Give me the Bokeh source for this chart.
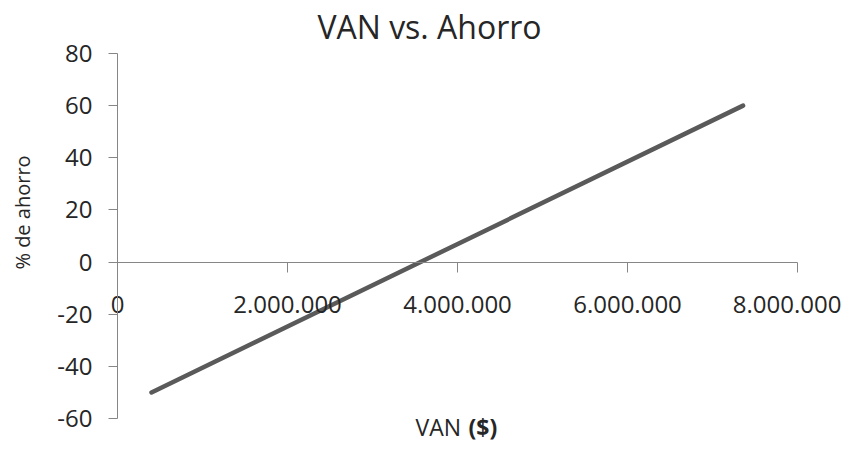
from bokeh.plotting import figure
from bokeh.models import (ColumnDataSource, FixedTicker, CustomJSTickFormatter, Label, Range1d)
from bokeh.embed import file_html
from bokeh.resources import INLINE
import math

# ---- data ----
van = [400000, 7360000]
ahorro = [-50, 60]
x_ticks = [0, 2000000, 4000000, 6000000, 8000000]
y_ticks = [-60, -40, -20, 0, 20, 40, 60, 80]
title_text = "VAN vs. Ahorro"
y_label_text = "% de ahorro"
x_label_main = "VAN"
x_label_bold = "($)"

FONT = "Open Sans"
AXIS_COLOR = "#868686"
TEXT_COLOR = "#262626"

# layout (pixels)
W, H = 841, 443
X0_PX, X1_PX = 117, 797       # where x = 0 and x = 8.000.000 sit
Y_TOP_PX, Y_BOT_PX = 53, 418   # where y = 80 and y = -60 sit
LABEL_REF = 455                # bottom reference of screen-unit labels
x_lo, x_hi = x_ticks[0], x_ticks[-1]
y_lo, y_hi = y_ticks[0], y_ticks[-1]
xs = (x_hi - x_lo) / (X1_PX - X0_PX)
ys = (y_hi - y_lo) / (Y_BOT_PX - Y_TOP_PX)
x_range = Range1d(x_lo - X0_PX * xs, x_hi + (W - X1_PX) * xs)
y_range = Range1d(y_lo - (H - Y_BOT_PX) * ys, y_hi + Y_TOP_PX * ys)

p = figure(frame_width=W, frame_height=H, x_range=x_range, y_range=y_range,
           output_backend="svg", toolbar_location=None,
           min_border_left=0, min_border_right=0, min_border_top=0, min_border_bottom=0)
p.outline_line_color = None
p.xgrid.visible = False
p.ygrid.visible = False
p.background_fill_color = "white"
p.border_fill_color = "white"

src = ColumnDataSource(dict(van=van, ahorro=ahorro))
p.line("van", "ahorro", source=src, line_color="#5a5a5a", line_width=4.5, line_cap="round")

# y axis at x = 0
ya = p.yaxis[0]
ya.fixed_location = 0
ya.bounds = (y_lo, y_hi)
ya.ticker = FixedTicker(ticks=y_ticks)
ya.formatter = CustomJSTickFormatter(code="return tick.toFixed(0);")
ya.axis_line_color = AXIS_COLOR
ya.major_tick_line_color = AXIS_COLOR
ya.major_tick_out = 9
ya.major_tick_in = 0
ya.minor_tick_line_color = None
ya.major_label_standoff = 16
ya.major_label_text_font = FONT
ya.major_label_text_font_size = "24px"
ya.major_label_text_color = TEXT_COLOR

# x axis at y = 0
xa = p.xaxis[0]
xa.fixed_location = 0
xa.bounds = (x_lo, x_hi)
xa.ticker = FixedTicker(ticks=x_ticks)
xa.formatter = CustomJSTickFormatter(code=r"return tick.toFixed(0).replace(/\B(?=(\d{3})+(?!\d))/g, '.');")
xa.axis_line_color = AXIS_COLOR
xa.major_tick_line_color = AXIS_COLOR
xa.major_tick_out = 10
xa.major_tick_in = 0
xa.minor_tick_line_color = None
xa.major_label_standoff = 24
xa.major_label_text_font = FONT
xa.major_label_text_font_size = "24px"
xa.major_label_text_color = TEXT_COLOR

# title and axis labels
p.add_layout(Label(x=429, y=LABEL_REF - 38, x_units="screen", y_units="screen", text=title_text,
                   text_font=FONT, text_font_size="32px", text_color=TEXT_COLOR,
                   text_align="center", text_baseline="alphabetic"))
p.add_layout(Label(x=22, y=LABEL_REF - 224, x_units="screen", y_units="screen", text=y_label_text,
                   angle=math.pi / 2, text_font=FONT, text_font_size="20px", text_color=TEXT_COLOR,
                   text_align="center", text_baseline="middle"))
p.add_layout(Label(x=415, y=LABEL_REF - 438, x_units="screen", y_units="screen", text=x_label_main,
                   text_font=FONT, text_font_size="23px", text_color=TEXT_COLOR,
                   text_align="left", text_baseline="alphabetic"))
p.add_layout(Label(x=468, y=LABEL_REF - 438, x_units="screen", y_units="screen", text=x_label_bold,
                   text_font=FONT, text_font_size="23px", text_font_style="bold", text_color=TEXT_COLOR,
                   text_align="left", text_baseline="alphabetic"))

open("out.html", "w").write(file_html(p, INLINE))
